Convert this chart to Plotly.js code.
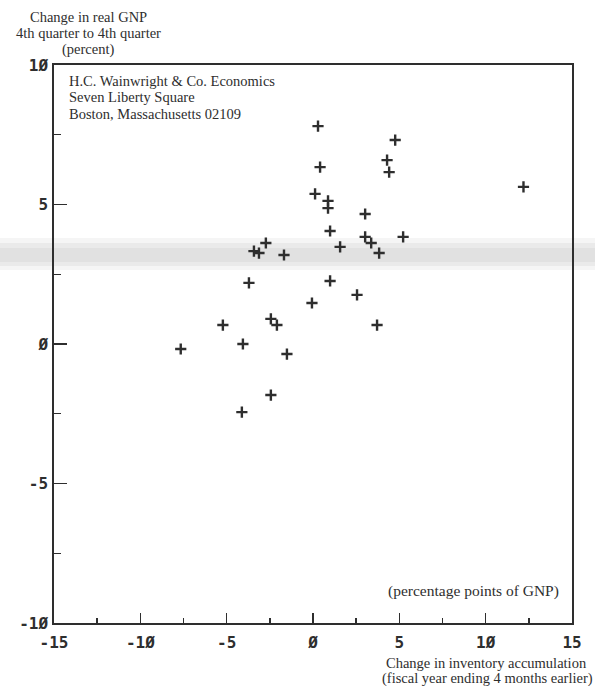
<!DOCTYPE html>
<html>
<head>
<meta charset="utf-8">
<script src="https://cdn.plot.ly/plotly-3.0.1.min.js"></script>
<style>
  html, body { margin: 0; padding: 0; background: #ffffff; }
  #chart { width: 595px; height: 686px; }
</style>
</head>
<body>
<div id="chart"></div>
<script>
// Change in inventory accumulation (percentage points of GNP), fiscal year ending 4 months earlier
const inventoryChange = [
  0.29, 4.76, 4.29, 4.41, 12.19, 0.41, 0.12, 0.87, 0.87, 3.02, 0.99,
  3.02, 5.22, -2.73, 3.37, 1.57, -3.42, -3.13, -1.68, 3.83, -3.71, 0.99,
  2.55, -0.06, -5.22, -2.44, -2.09, 3.71, -7.66, -4.06, -1.51, -2.44, -4.12
];
// Change in real GNP, 4th quarter to 4th quarter (percent)
const gnpChange = [
  7.81, 7.31, 6.59, 6.16, 5.63, 6.34, 5.38, 5.13, 4.87, 4.66, 4.05,
  3.84, 3.84, 3.62, 3.62, 3.48, 3.33, 3.26, 3.19, 3.26, 2.19, 2.26,
  1.76, 1.47, 0.68, 0.90, 0.68, 0.68, -0.18, 0.00, -0.36, -1.83, -2.44
];

// Tick labels in the plotter's slashed-zero style
const xTickVals = [-15, -10, -5, 0, 5, 10, 15];
const xTickText = ['-15', '-1Ø', '-5', 'Ø', '5', '1Ø', '15'];
const yTickVals = [-10, -5, 0, 5, 10];
const yTickText = ['-1Ø', '-5', 'Ø', '5', '1Ø'];

const ink = '#2e2e2e';
const serif = 'Liberation Serif, Times New Roman, serif';
const mono = 'DejaVu Sans Mono, monospace';

const W = 595, H = 686;
const M = { l: 54, r: 23, t: 65, b: 63 };
const PW = W - M.l - M.r, PH = H - M.t - M.b;
// pixel position -> paper coordinates for text placement
const px = x => (x - M.l) / PW;
const py = y => (H - M.b - y) / PH;

function label(text, x, y, anchor, size) {
  return {
    text: text, xref: 'paper', yref: 'paper',
    x: px(x), y: py(y), xanchor: anchor || 'center', yanchor: 'middle',
    borderpad: 0,
    showarrow: false, font: { family: serif, size: size || 14.5, color: ink }
  };
}

const annotations = [
  label('Change in real GNP', 88, 17),
  label('4th quarter to 4th quarter', 88, 33.3),
  label('(percent)', 88, 49.6),
  label('H.C. Wainwright &amp; Co. Economics', 68, 81, 'left'),
  label('Seven Liberty Square', 68, 97.3, 'left'),
  label('Boston, Massachusetts 02109', 68, 113.6, 'left'),
  label('(percentage points of GNP)', 473, 591, 'center', 15.5),
  label('Change in inventory accumulation', 486, 662.5),
  label('(fiscal year ending 4 months earlier)', 594, 678.8, 'right')
];

// faint grey smear running across the page
const shapes = [
  { y0: 238, y1: 270, op: 0.07 },
  { y0: 243, y1: 266, op: 0.08 },
  { y0: 248, y1: 262, op: 0.07 }
].map(s => ({
  type: 'rect', xref: 'paper', yref: 'paper', layer: 'below',
  x0: px(0), x1: px(W), y0: py(s.y1), y1: py(s.y0),
  line: { width: 0 }, fillcolor: 'rgba(110,110,110,' + s.op + ')'
}));

const trace = {
  x: inventoryChange,
  y: gnpChange,
  type: 'scatter',
  mode: 'markers',
  marker: {
    symbol: 'cross-thin',
    size: 8,
    color: ink,
    line: { width: 2.4, color: ink }
  },
  hoverinfo: 'x+y'
};

const layout = {
  width: W, height: H,
  margin: M,
  paper_bgcolor: '#ffffff',
  plot_bgcolor: 'rgba(0,0,0,0)',
  showlegend: false,
  xaxis: {
    range: [-15, 15],
    tickvals: xTickVals, ticktext: xTickText,
    ticks: 'inside', ticklen: 10, tickwidth: 1.4, tickcolor: ink,
    minor: { tickvals: [-12.5, -7.5, -2.5, 2.5, 7.5, 12.5], ticks: 'inside', ticklen: 5, tickwidth: 1.4, tickcolor: ink },
    showline: true, linecolor: ink, linewidth: 1.7, mirror: true,
    showgrid: false, zeroline: false,
    tickfont: { family: mono, size: 16, color: ink, weight: 'bold' },
    ticklabelstandoff: 4
  },
  yaxis: {
    range: [-10, 10],
    tickvals: yTickVals, ticktext: yTickText,
    ticks: 'inside', ticklen: 13, tickwidth: 1.4, tickcolor: ink,
    minor: { tickvals: [-7.5, -2.5, 2.5, 7.5], ticks: 'inside', ticklen: 7, tickwidth: 1.4, tickcolor: ink },
    showline: true, linecolor: ink, linewidth: 1.7, mirror: true,
    showgrid: false, zeroline: false,
    tickfont: { family: mono, size: 16, color: ink, weight: 'bold' },
    ticklabelstandoff: 1
  },
  annotations: annotations,
  shapes: shapes
};

Plotly.newPlot('chart', [trace], layout, { displayModeBar: false, staticPlot: true });
</script>
</body>
</html>
